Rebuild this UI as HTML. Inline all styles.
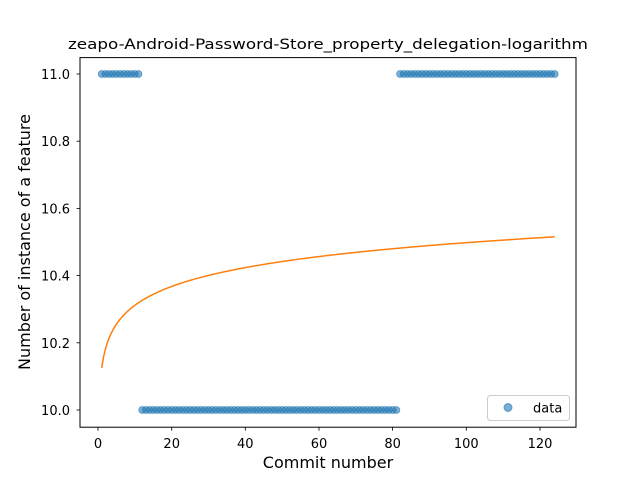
<!DOCTYPE html>
<html><head><meta charset="utf-8"><style>
html,body{margin:0;padding:0;background:#fff;width:640px;height:480px;overflow:hidden}
svg text{font-family:"DejaVu Sans","Liberation Sans",sans-serif;fill:#000}
</style></head><body>
<svg id="s" width="640" height="480" viewBox="0 0 640 480" xmlns="http://www.w3.org/2000/svg">
<rect width="640" height="480" fill="#fff"/>
<g id="pts"></g>
<path id="curve" fill="none" stroke="#ff7f0e" stroke-width="1.5"/>
<rect x="80" y="57.6" width="496" height="369.6" fill="none" stroke="#000" stroke-width="1"/>
<g stroke="#000" stroke-width="0.8">
<line x1="98" y1="427.2" x2="98" y2="430.7"/>
<line x1="171.7" y1="427.2" x2="171.7" y2="430.7"/>
<line x1="245.3" y1="427.2" x2="245.3" y2="430.7"/>
<line x1="319" y1="427.2" x2="319" y2="430.7"/>
<line x1="392.6" y1="427.2" x2="392.6" y2="430.7"/>
<line x1="466.3" y1="427.2" x2="466.3" y2="430.7"/>
<line x1="540" y1="427.2" x2="540" y2="430.7"/>
<line x1="76.5" y1="410" x2="80" y2="410"/>
<line x1="76.5" y1="342.8" x2="80" y2="342.8"/>
<line x1="76.5" y1="275.6" x2="80" y2="275.6"/>
<line x1="76.5" y1="208.4" x2="80" y2="208.4"/>
<line x1="76.5" y1="141.2" x2="80" y2="141.2"/>
<line x1="76.5" y1="74" x2="80" y2="74"/>
</g>
<g font-size="13" text-anchor="middle">
<text x="98" y="448">0</text>
<text x="171.7" y="448">20</text>
<text x="245.3" y="448">40</text>
<text x="319" y="448">60</text>
<text x="392.6" y="448">80</text>
<text x="466.3" y="448">100</text>
<text x="540" y="448">120</text>
</g>
<g font-size="13" text-anchor="end">
<text x="70" y="415">10.0</text>
<text x="70" y="347.8">10.2</text>
<text x="70" y="280.6">10.4</text>
<text x="70" y="213.4">10.6</text>
<text x="70" y="146.2">10.8</text>
<text x="70" y="79">11.0</text>
</g>
<text x="328" y="468" font-size="16" text-anchor="middle">Commit number</text>
<text x="0" y="0" font-size="16" text-anchor="middle" transform="translate(31,242) rotate(-90)" dx="0" dy="0" x-note="">Number of instance of a feature</text>
<text x="328" y="49" font-size="14.5" text-anchor="middle" textLength="520" lengthAdjust="spacingAndGlyphs">zeapo-Android-Password-Store_property_delegation-logarithm</text>
<rect x="487.5" y="395.5" width="82" height="25" rx="3" fill="#fff" fill-opacity="0.8" stroke="#ccc" stroke-width="1"/>
<circle cx="508" cy="407.5" r="4" fill="#1f77b4" fill-opacity="0.6" stroke="#1f77b4" stroke-opacity="0.6"/>
<text x="533" y="412.5" font-size="13">data</text>
</svg>
<script>
var t=document.querySelector('text[x-note]');t.setAttribute('transform','translate(30,242) rotate(-90)');
var g=document.getElementById('pts'),ns='http://www.w3.org/2000/svg';
function px(x){return 98+x*442/120}function py(y){return 410-(y-10)*336}
for(var i=1;i<=124;i++){var y=(i<=11||i>=82)?11:10;var c=document.createElementNS(ns,'circle');
c.setAttribute('cx',px(i));c.setAttribute('cy',py(y));c.setAttribute('r',3.5);
c.setAttribute('fill','#1f77b4');c.setAttribute('fill-opacity','0.6');c.setAttribute('stroke','#1f77b4');c.setAttribute('stroke-opacity','0.6');c.setAttribute('stroke-width','0.8');g.appendChild(c);}
var d='';for(var x=1;x<=124;x+=0.5){var v=10.125+0.081*Math.log(x);d+=(d?'L':'M')+px(x).toFixed(2)+','+py(v).toFixed(2);}
document.getElementById('curve').setAttribute('d',d);
</script>
</body></html>
